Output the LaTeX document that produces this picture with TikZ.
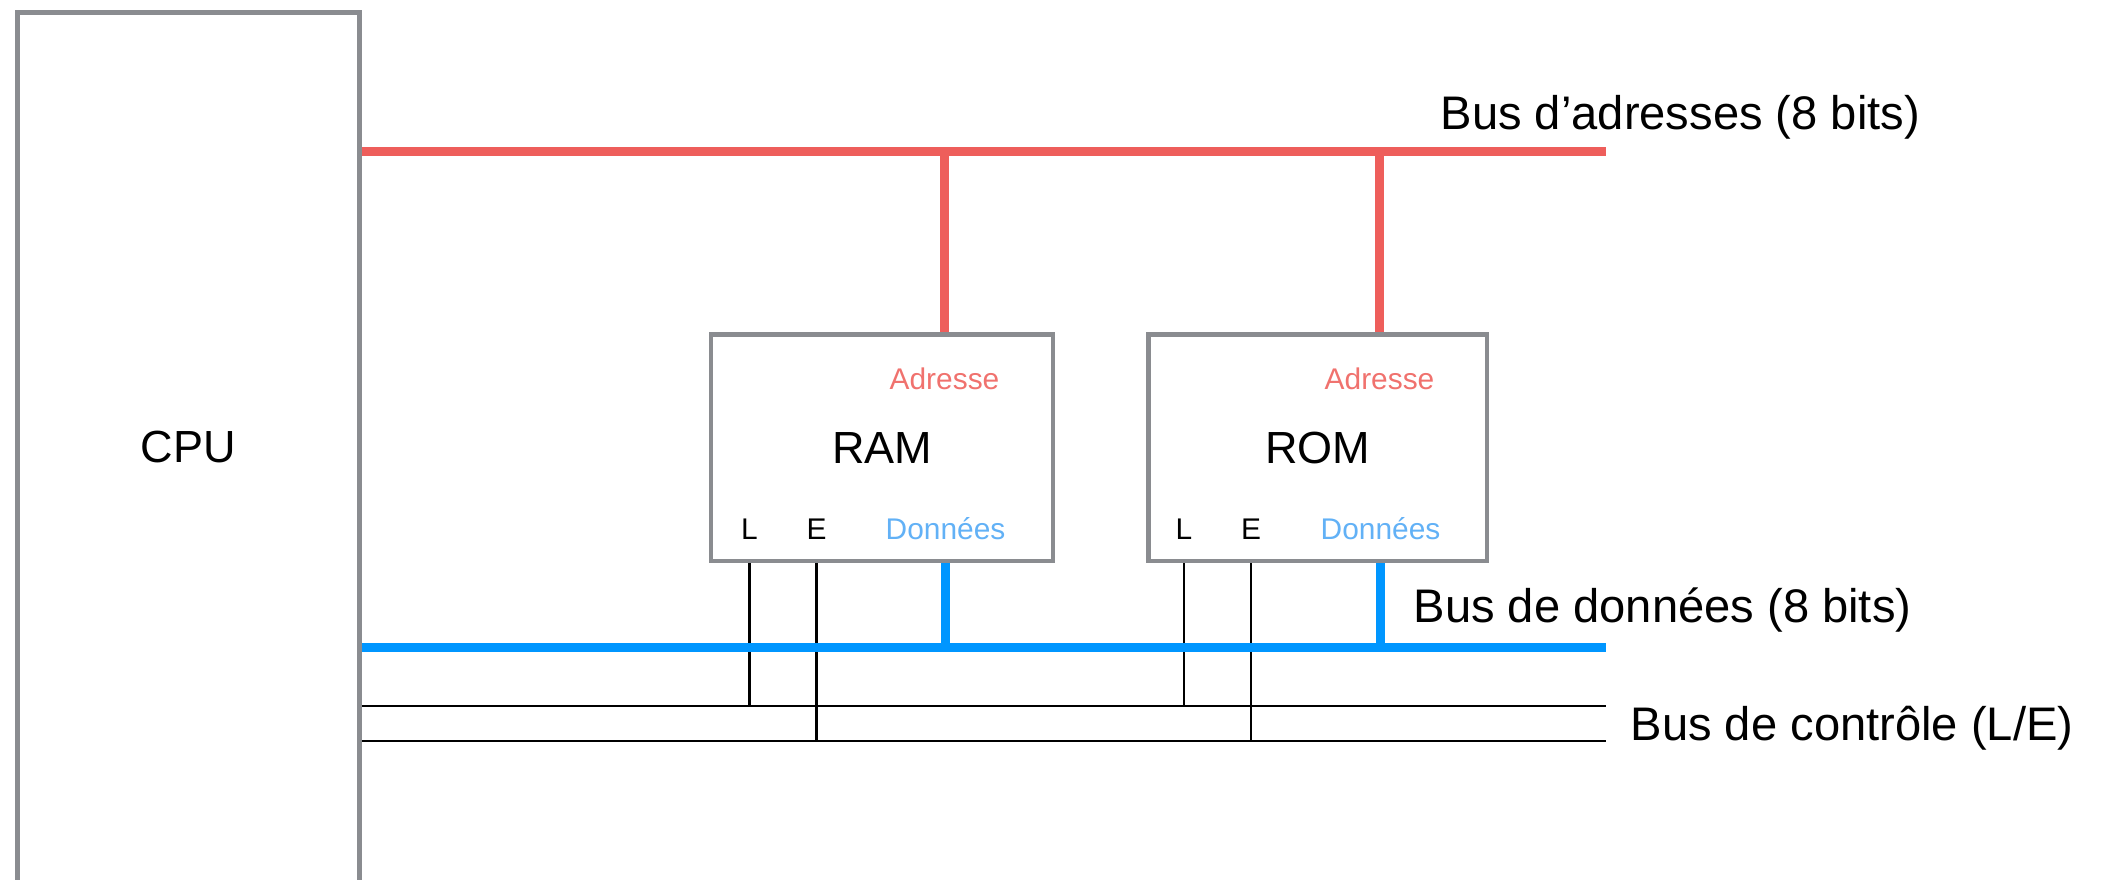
\documentclass[tikz,border=0pt]{standalone}
\usepackage{fontspec}
\setmainfont{Liberation Sans}
\usetikzlibrary{positioning}

\definecolor{addrred}{HTML}{EE5E5B}
\definecolor{addrtext}{HTML}{F0726E}
\definecolor{datablue}{HTML}{0096FF}
\definecolor{datatext}{HTML}{62B1F6}
\definecolor{boxgrey}{HTML}{8A8C90}

\tikzset{
  unit/.style={rectangle, draw=boxgrey, line width=1.3pt, inner sep=0pt, font=\fontsize{12.8pt}{15pt}\selectfont},
  unitname/.style={inner sep=0pt, font=\fontsize{12.8pt}{15pt}\selectfont},
  pin/.style={anchor=base, inner sep=0pt, font=\fontsize{8.5pt}{10pt}\selectfont},
  buslabel/.style={anchor=base west, inner sep=0pt, font=\fontsize{13.4pt}{16pt}\selectfont},
  addrbus/.style={draw=addrred, line width=2.35pt},
  databus/.style={draw=datablue, line width=2.35pt},
  ctrlbus/.style={draw=black, line width=0.75pt}
}

\begin{document}
\begin{tikzpicture}[x=0.01cm, y=-0.01cm]
			\useasboundingbox (0,0) rectangle (2104,880);
			\clip (0,0) rectangle (2104,880);
			
			% Define units
			\node[unit, line width=1.45pt, minimum width=3.42cm, minimum height=10cm] (cpu) at (188.5,512.5) {};
			\node[unitname] (cpuname) at (188.5,447) {CPU};
			\node[unit, minimum width=3.42cm, minimum height=2.265cm] (ram) at (882,447.75) {RAM};
			\node[unit, minimum width=3.385cm, minimum height=2.265cm] (rom) at (1317.75,447.75) {ROM};
			
			% Pins of the RAM
			\node[pin, text=addrtext] (ramadr) at (944.5,390) {Adresse};
			\node[pin, text=datatext] (ramdon) at (945.5,540) {Données};
			\node[pin] (ramL) at (749.5,540) {L};
			\node[pin] (ramE) at (816.5,540) {E};
			
			% Pins of the ROM
			\node[pin, text=addrtext] (romadr) at (1379.5,390) {Adresse};
			\node[pin, text=datatext] (romdon) at (1380.5,540) {Données};
			\node[pin] (romL) at (1184,540) {L};
			\node[pin] (romE) at (1251,540) {E};
			
			% Ends of the buses
			\coordinate (aend) at (1606,151.5);
			\coordinate (dend) at (1606,647.5);
			\coordinate (lend) at (1606,706);
			\coordinate (eend) at (1606,741);
			
			% Bus labels
			\node[buslabel] (adrlabel) at (1440,130) {Bus d’adresses (8 bits)};
			\node[buslabel] (donlabel) at (1413,623) {Bus de données (8 bits)};
			\node[buslabel] (ctrllabel) at (1630,741) {Bus de contrôle (L/E)};
			
			% Address bus and its taps
			\draw[addrbus] (cpu.east |- aend) -- (aend);
			\draw[addrbus] (ramadr |- aend) -- (ramadr |- ram.north);
			\draw[addrbus] (romadr |- aend) -- (romadr |- rom.north);
			
			% Control bus, one line for L and one for E
			\draw[ctrlbus] (cpu.east |- lend) -- (lend);
			\draw[ctrlbus] (cpu.east |- eend) -- (eend);
			\draw[ctrlbus] (ramL |- ram.south) -- (ramL |- lend);
			\draw[ctrlbus] (ramE |- ram.south) -- (ramE |- eend);
			\draw[ctrlbus] (romL |- rom.south) -- (romL |- lend);
			\draw[ctrlbus] (romE |- rom.south) -- (romE |- eend);
			
			% Data bus and its taps
			\draw[databus] (cpu.east |- dend) -- (dend);
			\draw[databus] (ramdon |- ram.south) -- (ramdon |- dend);
			\draw[databus] (romdon |- rom.south) -- (romdon |- dend);
		\end{tikzpicture}
\end{document}
